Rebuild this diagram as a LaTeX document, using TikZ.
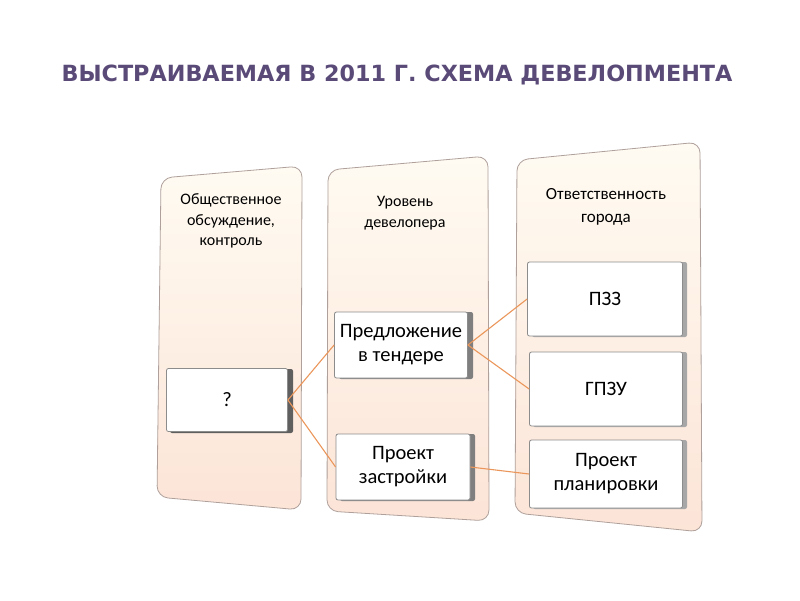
\documentclass[tikz,border=0pt]{standalone}
\usepackage{fontspec}
\setmainfont{Carlito}
\newfontfamily\titlefont{DejaVu Sans}
\begin{document}
\begin{tikzpicture}[x=1pt,y=-1pt,
  panel/.style={top color=panelTop,bottom color=panelBot,draw=panelEdge,line width=0.8pt,rounded corners=11pt},
  hdr/.style={align=center,font=\fontsize{16}{20.5}\selectfont,text=black},
  inbox/.style={draw=boxEdge,line width=0.8pt,fill=white,rounded corners=2pt,minimum width=#1,align=center,font=\fontsize{20.5}{24}\selectfont},
  link/.style={draw=linkC,line width=1.1pt}]
\definecolor{panelTop}{RGB}{255,251,242}
\definecolor{panelBot}{RGB}{252,228,215}
\definecolor{panelEdge}{RGB}{175,160,155}
\definecolor{boxEdge}{RGB}{140,140,140}
\definecolor{shadowC}{RGB}{95,95,95}
\definecolor{linkC}{RGB}{235,150,90}
\definecolor{titleC}{RGB}{90,74,120}
\useasboundingbox (0,0) rectangle (800,600);
\fill[white] (0,0) rectangle (800,600);
% title
\node[font=\titlefont\bfseries\fontsize{22.3}{26}\selectfont,text=titleC] (title) at (397,75) {ВЫСТРАИВАЕМАЯ В 2011 Г. СХЕМА ДЕВЕЛОПМЕНТА};
% panels
\shade[panel] (161,178) -- (302,166) -- (301,510) -- (157,497) -- cycle;
\shade[panel] (328,170) -- (488,156) -- (489,521) -- (327,511) -- cycle;
\shade[panel] (517,160) -- (700,142) -- (702,532) -- (515,513) -- cycle;
% headers
\node[hdr] (h1) at (231,221) {Общественное\\обсуждение,\\контроль};
\node[hdr] (h2) at (405,213) {Уровень\\девелопера};
\node[hdr,font=\fontsize{17}{22.5}\selectfont] (h3) at (606,207) {Ответственность\\города};
% box shadows
\fill[shadowC,rounded corners=2pt] (170,369) rectangle (293,433);
\fill[shadowC!80,rounded corners=2pt] (339,312) rectangle (473,379);
\fill[shadowC!80,rounded corners=2pt] (340,434) rectangle (475,501);
\fill[shadowC!55,rounded corners=2pt] (532,262) rectangle (687,337);
\fill[shadowC!55,rounded corners=2pt] (533,352) rectangle (687,427);
\fill[shadowC!55,rounded corners=2pt] (533,440) rectangle (687,509);
% boxes
\node[inbox=121pt,minimum height=63pt] (q) at (227,400) {?};
\node[inbox=133pt,minimum height=66pt] (pred) at (401,345) {Предложение\\в тендере};
\node[inbox=134pt,minimum height=66pt] (zastr) at (403,467) {Проект\\застройки};
\node[inbox=155pt,minimum height=74pt] (pzz) at (605,299) {ПЗЗ};
\node[inbox=153pt,minimum height=74pt] (gpzu) at (606,389) {ГПЗУ};
\node[inbox=153pt,minimum height=68pt] (plan) at (606,474) {Проект\\планировки};
% links
\draw[link] (q.east) -- (pred.west);
\draw[link] (q.east) -- (zastr.west);
\draw[link] (pred.east) -- (pzz.west);
\draw[link] (pred.east) -- (gpzu.west);
\draw[link] (zastr.east) -- (plan.west);
\end{tikzpicture}
\end{document}
